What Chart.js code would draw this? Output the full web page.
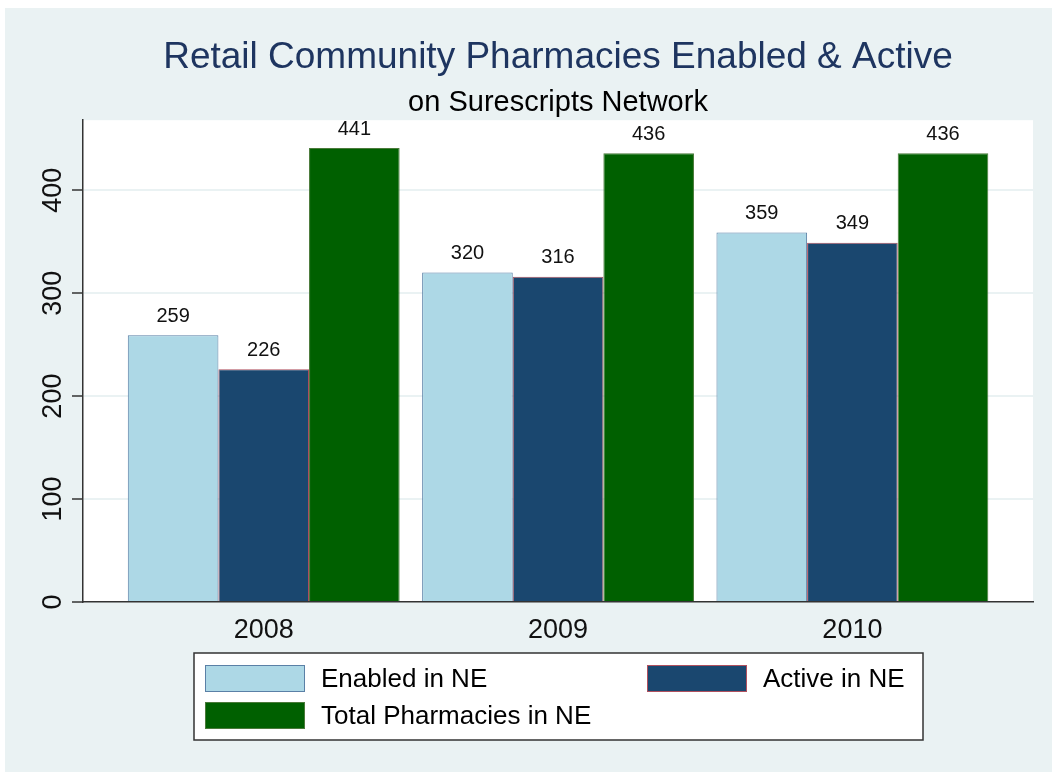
<!DOCTYPE html>
<html>
<head>
<meta charset="utf-8">
<script src="https://cdn.jsdelivr.net/npm/chart.js@4.4.1/dist/chart.umd.min.js"></script>
<style>
  html, body { margin: 0; padding: 0; background: #fff; overflow: hidden; }
  canvas { display: block; }
</style>
</head>
<body>
<canvas id="chart" width="1052" height="772"></canvas>
<script>
const years = ["2008", "2009", "2010"];
const enabledNE = [259, 320, 359];
const activeNE = [226, 316, 349];
const totalNE = [441, 436, 436];
const yTickValues = [0, 100, 200, 300, 400];

const FONT = "'Liberation Sans', Arial, Helvetica, sans-serif";
const BG = "#eaf2f3";

// stata-like background: light region + white plot area
const backgroundPlugin = {
  id: "bgPlot",
  beforeDraw(chart) {
    const { ctx, chartArea, width, height } = chart;
    ctx.save();
    ctx.fillStyle = "#ffffff";
    ctx.fillRect(0, 0, width, height);
    ctx.fillStyle = BG;
    ctx.fillRect(5, 8, width, height);
    ctx.fillStyle = "#ffffff";
    ctx.fillRect(chartArea.left, chartArea.top, chartArea.right - chartArea.left, chartArea.bottom - chartArea.top);
    ctx.restore();
  }
};

// value labels over each bar
const barLabels = {
  id: "barLabels",
  afterDatasetsDraw(chart) {
    const { ctx } = chart;
    ctx.save();
    ctx.font = "20px " + FONT;
    ctx.fillStyle = "#111";
    ctx.textAlign = "center";
    ctx.textBaseline = "middle";
    chart.data.datasets.forEach((ds, i) => {
      chart.getDatasetMeta(i).data.forEach((bar, j) => {
        ctx.fillText(String(ds.data[j].y), bar.x, bar.y - 19);
      });
    });
    ctx.restore();
  }
};

// boxed two-column legend under the plot
const boxLegend = {
  id: "boxLegend",
  afterDraw(chart) {
    const { ctx } = chart;
    const slots = [[205, 665], [647, 665], [205, 702]];
    ctx.save();
    ctx.fillStyle = "#fff";
    ctx.fillRect(194, 653, 729, 87);
    ctx.strokeStyle = "#333";
    ctx.lineWidth = 1.5;
    ctx.strokeRect(194, 653, 729, 87);
    ctx.font = "26px " + FONT;
    ctx.textBaseline = "middle";
    ctx.textAlign = "left";
    chart.data.datasets.forEach((ds, i) => {
      const [x, y] = slots[i];
      ctx.fillStyle = ds.backgroundColor;
      ctx.fillRect(x, y, 100, 27);
      ctx.strokeStyle = ds.borderColor;
      ctx.lineWidth = 1;
      ctx.strokeRect(x + 0.5, y + 0.5, 99, 26);
      ctx.fillStyle = "#000";
      ctx.fillText(ds.label, x + 116, y + 15);
    });
    ctx.restore();
  }
};

const toPoints = (arr) => arr.map((v, i) => ({ x: i, y: v }));

new Chart(document.getElementById("chart"), {
  type: "bar",
  data: {
    datasets: [
      {
        label: "Enabled in NE",
        data: toPoints(enabledNE),
        backgroundColor: "#add8e6",
        borderColor: "#5a80a6",
        borderWidth: 1
      },
      {
        label: "Active in NE",
        data: toPoints(activeNE),
        backgroundColor: "#1a476f",
        borderColor: "#b0505e",
        borderWidth: 1
      },
      {
        label: "Total Pharmacies in NE",
        data: toPoints(totalNE),
        backgroundColor: "#006000",
        borderColor: "#4a7a3a",
        borderWidth: 1
      }
    ]
  },
  options: {
    responsive: false,
    animation: false,
    devicePixelRatio: 1,
    categoryPercentage: 0.9236,
    barPercentage: 1,
    layout: { padding: { left: 0, right: 19, top: 0, bottom: 110 } },
    plugins: {
      legend: { display: false },
      tooltip: { enabled: false },
      title: {
        display: true,
        text: "Retail Community Pharmacies Enabled & Active",
        color: "#1e3560",
        fullSize: false,
        font: { family: FONT, size: 37, weight: "normal", lineHeight: 1.2 },
        padding: { top: 36, bottom: 0 }
      },
      subtitle: {
        display: true,
        text: "on Surescripts Network",
        color: "#000",
        fullSize: false,
        font: { family: FONT, size: 29, weight: "normal", lineHeight: 1.2 },
        padding: { top: 5, bottom: 0 }
      }
    },
    scales: {
      x: {
        type: "linear",
        min: -0.614,
        max: 2.6136,
        offset: false,
        grid: { display: false, offset: false },
        border: { display: true, color: "#333", width: 1.5 },
        afterBuildTicks: (s) => { s.ticks = years.map((_, i) => ({ value: i })); },
        afterFit: (s) => { s.height = 60; },
        ticks: {
          padding: 4,
          color: "#111",
          font: { family: FONT, size: 27 },
          callback: (v) => years[v]
        }
      },
      y: {
        min: 0,
        max: 468,
        grid: {
          color: (c) => (c.tick && c.tick.value === 0 ? "rgba(0,0,0,0)" : BG),
          lineWidth: 2,
          tickColor: "#333",
          tickWidth: 1.5,
          tickLength: 11
        },
        border: { display: true, color: "#333", width: 1.5 },
        afterBuildTicks: (s) => { s.ticks = yTickValues.map((v) => ({ value: v })); },
        afterFit: (s) => { s.width = 83; },
        ticks: {
          minRotation: 90,
          maxRotation: 90,
          crossAlign: "center",
          padding: -4,
          color: "#111",
          font: { family: FONT, size: 27 }
        }
      }
    }
  },
  plugins: [backgroundPlugin, barLabels, boxLegend]
});
</script>
</body>
</html>
